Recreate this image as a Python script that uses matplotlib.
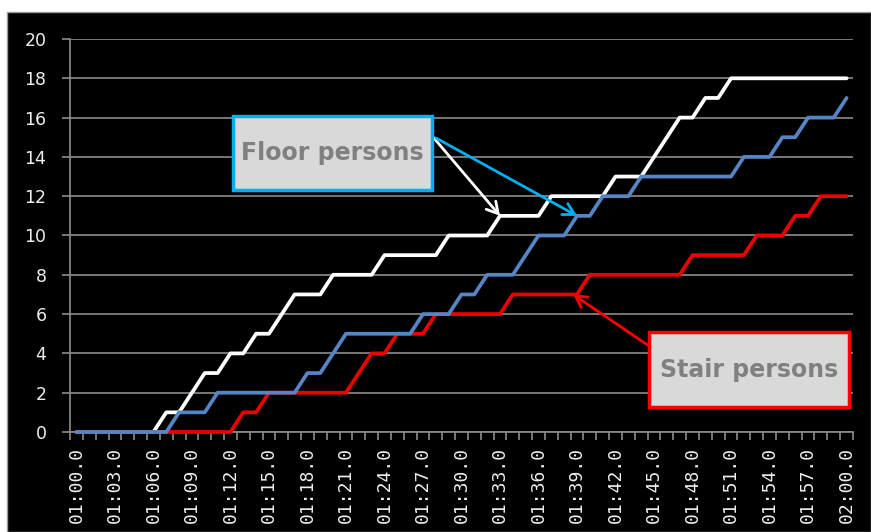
import matplotlib
matplotlib.use("Agg")
import matplotlib.pyplot as plt
from matplotlib.patches import Rectangle

W, H = 871, 532

# one sample per second, 01:00.0 .. 02:00.0
seconds = list(range(61))
tick_positions = list(range(0, 61, 3))
tick_labels = ["01:00.0", "01:03.0", "01:06.0", "01:09.0", "01:12.0", "01:15.0",
               "01:18.0", "01:21.0", "01:24.0", "01:27.0", "01:30.0", "01:33.0",
               "01:36.0", "01:39.0", "01:42.0", "01:45.0", "01:48.0", "01:51.0",
               "01:54.0", "01:57.0", "02:00.0"]

floor_persons_1 = [0, 0, 0, 0, 0, 0, 0, 1, 1, 2, 3, 3, 4, 4, 5, 5, 6, 7, 7, 7,
                   8, 8, 8, 8, 9, 9, 9, 9, 9, 10, 10, 10, 10, 11, 11, 11, 11, 12, 12, 12,
                   12, 12, 13, 13, 13, 14, 15, 16, 16, 17, 17, 18, 18, 18, 18, 18, 18, 18, 18, 18,
                   18]
floor_persons_2 = [0, 0, 0, 0, 0, 0, 0, 0, 1, 1, 1, 2, 2, 2, 2, 2, 2, 2, 3, 3,
                   4, 5, 5, 5, 5, 5, 5, 6, 6, 6, 7, 7, 8, 8, 8, 9, 10, 10, 10, 11,
                   11, 12, 12, 12, 13, 13, 13, 13, 13, 13, 13, 13, 14, 14, 14, 15, 15, 16, 16, 16,
                   17]
stair_persons = [0, 0, 0, 0, 0, 0, 0, 0, 0, 0, 0, 0, 0, 1, 1, 2, 2, 2, 2, 2,
                 2, 2, 3, 4, 4, 5, 5, 5, 6, 6, 6, 6, 6, 6, 7, 7, 7, 7, 7, 7,
                 8, 8, 8, 8, 8, 8, 8, 8, 9, 9, 9, 9, 9, 10, 10, 10, 11, 11, 12, 12,
                 12]

GRID = "#8c8c8c"

fig = plt.figure(figsize=(W / 100, H / 100), dpi=100, facecolor="white")
# black chart area behind the axes
fig.patches.append(Rectangle((7 / W, 0), 1 - 7 / W, (H - 12) / H,
                             transform=fig.transFigure, facecolor="black",
                             edgecolor="#9a9a9a", lw=1, zorder=-5))

ax = fig.add_axes([70 / W, (H - 432) / H, 783 / W, 393 / H])
ax.set_facecolor("black")

ax.plot(seconds, floor_persons_1, color="white", lw=2.7, zorder=3,
        solid_joinstyle="round", solid_capstyle="round", clip_on=False)
ax.plot(seconds, stair_persons, color="#ee0000", lw=2.7, zorder=4,
        solid_joinstyle="round", solid_capstyle="round", clip_on=False)
ax.plot(seconds, floor_persons_2, color="#5585c5", lw=2.7, zorder=5,
        solid_joinstyle="round", solid_capstyle="round", clip_on=False)

ax.set_xlim(-0.5, 60.5)
ax.set_ylim(0, 20)

ax.set_yticks(range(0, 21, 2))
ax.yaxis.grid(True, color=GRID, lw=1.2)
ax.set_axisbelow(True)
ax.tick_params(axis="y", colors=GRID, length=6, width=1.2, pad=11,
               labelcolor="#eeeeee", labelsize=12.5)

ax.set_xticks(tick_positions)
ax.set_xticklabels(tick_labels, rotation=90, family="DejaVu Sans Mono",
                   fontsize=13, color="#eeeeee")
ax.set_xticks([i - 0.5 for i in range(62)], minor=True)
ax.tick_params(axis="x", which="major", length=0, pad=11)
ax.tick_params(axis="x", which="minor", length=6, width=1.2, colors=GRID)

for side in ("top", "right"):
    ax.spines[side].set_visible(False)
for side in ("left", "bottom"):
    ax.spines[side].set_color(GRID)
    ax.spines[side].set_linewidth(1.2)


def label_box(x0, y0, x1, y1, text, edge):
    fig.patches.append(Rectangle((x0 / W, (H - y1) / H), (x1 - x0) / W, (y1 - y0) / H,
                                 transform=fig.transFigure, facecolor="#d9d9d9",
                                 edgecolor=edge, lw=2.5, zorder=6))
    fig.text((x0 + x1) / 2 / W, (H - (y0 + y1) / 2) / H, text, ha="center", va="center",
             fontsize=17, fontweight="bold", color="#808080", zorder=7)


label_box(233, 116, 432, 190, "Floor persons", "#00b0f0")
label_box(649, 332, 849, 407, "Stair persons", "#ff0000")

arrow = "->,head_length=0.8,head_width=0.45"
ax.annotate("", xy=(33, 11), xycoords="data", xytext=(433, H - 137),
            textcoords="figure pixels", annotation_clip=False,
            arrowprops=dict(arrowstyle=arrow, color="white", lw=2, shrinkA=0, shrinkB=0))
ax.annotate("", xy=(39, 11), xycoords="data", xytext=(436, H - 138),
            textcoords="figure pixels", annotation_clip=False,
            arrowprops=dict(arrowstyle=arrow, color="#00b0f0", lw=2, shrinkA=0, shrinkB=0))
ax.annotate("", xy=(38.7, 7), xycoords="data", xytext=(649, H - 346),
            textcoords="figure pixels", annotation_clip=False,
            arrowprops=dict(arrowstyle=arrow, color="#ff0000", lw=2, shrinkA=0, shrinkB=0))

fig.savefig("out.png", dpi=100, facecolor=fig.get_facecolor())
